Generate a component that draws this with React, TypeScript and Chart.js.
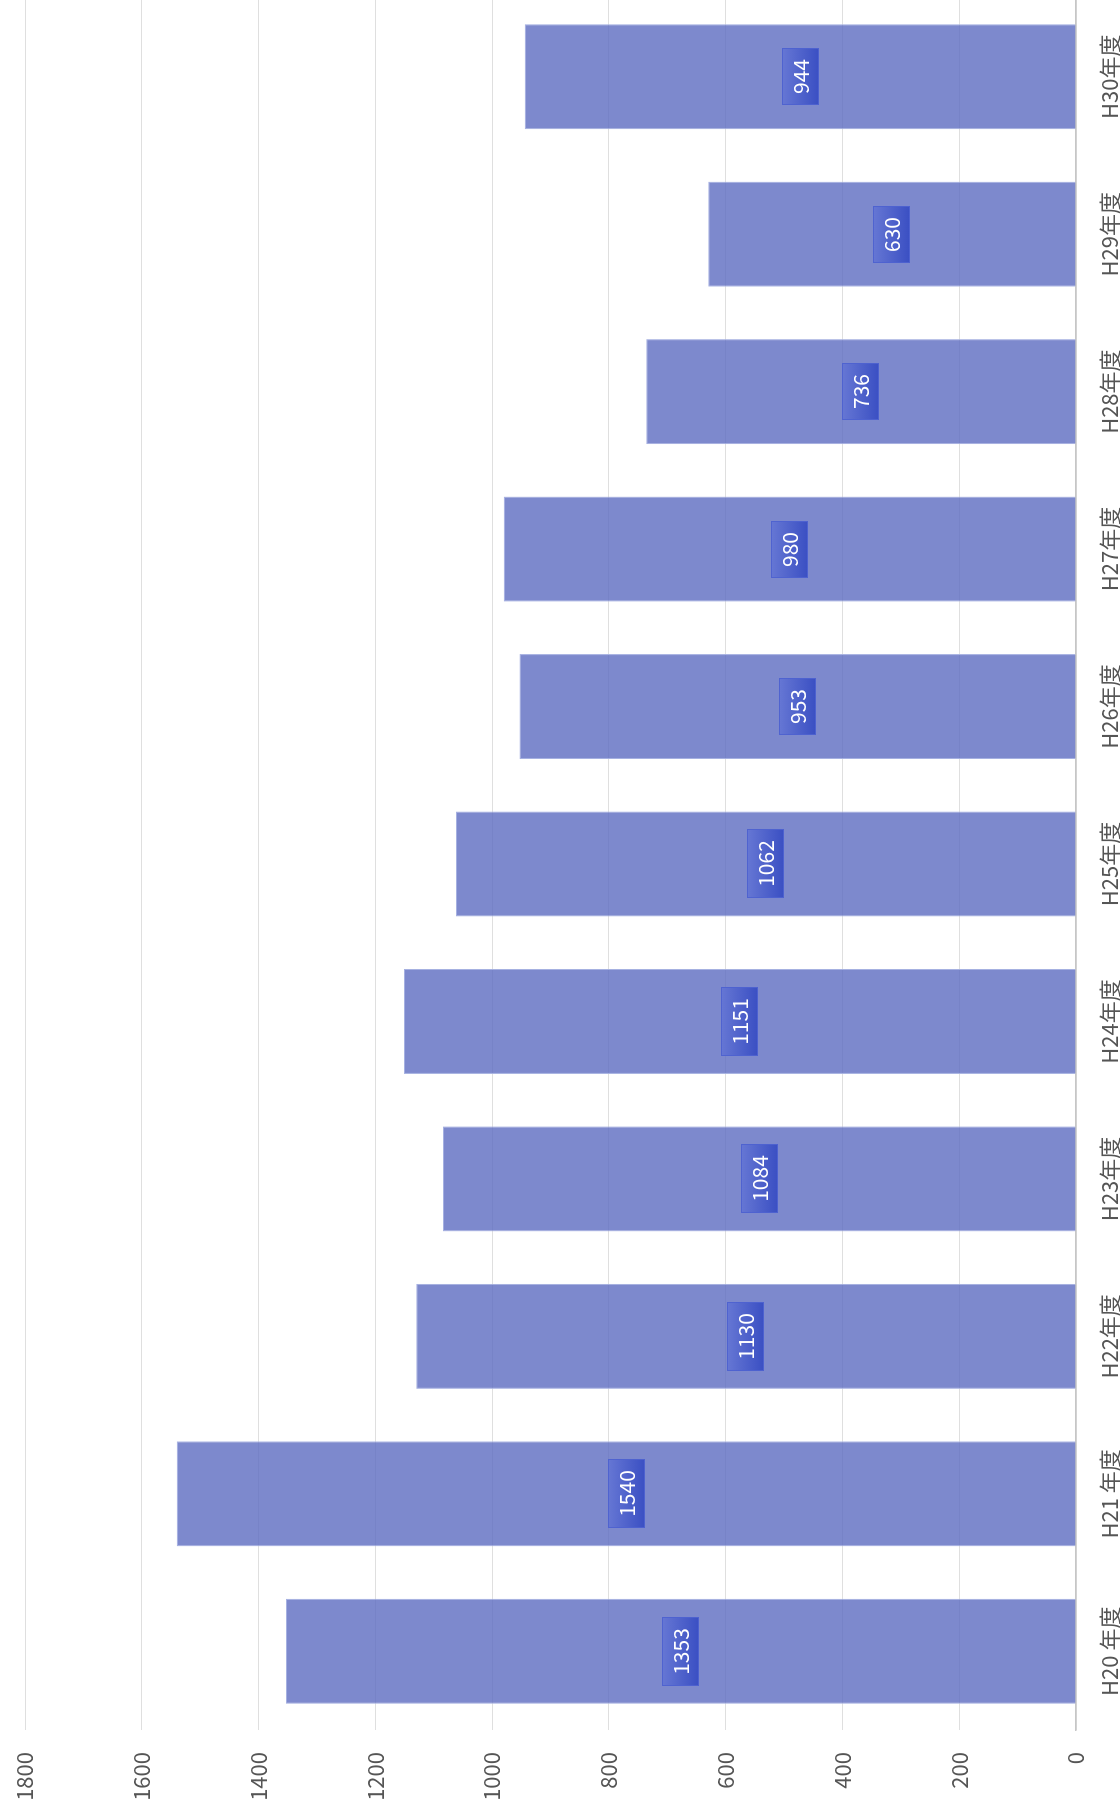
import React, { useEffect, useRef } from 'react';
import { Chart, registerables } from 'chart.js';

Chart.register(...registerables);

const categories = ['H20 年度', 'H21 年度', 'H22年度', 'H23年度', 'H24年度', 'H25年度', 'H26年度', 'H27年度', 'H28年度', 'H29年度', 'H30年度'];
const values = [1353, 1540, 1130, 1084, 1151, 1062, 953, 980, 736, 630, 944];
const valueMin = 0;
const valueMax = 1800;
const valueStep = 200;

const FONT = '"Noto Sans CJK JP", "Noto Sans", sans-serif';
const CW = 1818;
const CH = 1120;

const labelPlugin = {
  id: 'barValueLabels',
  afterDraw(chart: any) {
    const ctx = chart.ctx;
    const meta = chart.getDatasetMeta(0);
    const data = chart.data.datasets[0].data;
    ctx.save();
    ctx.font = `21px ${FONT}`;
    meta.data.forEach((bar: any, i: number) => {
      const { x, y, base } = bar.getProps(['x', 'y', 'base'], true);
      const cy = (y + base) / 2;
      const text = String(data[i]);
      const tw = ctx.measureText(text).width;
      const w = Math.round(tw + 22);
      const h = 37;
      const left = Math.round(x - w / 2);
      const top = Math.round(cy - h / 2);
      const g = ctx.createLinearGradient(0, top, 0, top + h);
      g.addColorStop(0, '#6677d4');
      g.addColorStop(1, '#3a4fc3');
      ctx.fillStyle = g;
      ctx.fillRect(left, top, w, h);
      ctx.strokeStyle = 'rgba(78,98,208,0.95)';
      ctx.lineWidth = 1;
      ctx.strokeRect(left + 0.5, top + 0.5, w - 1, h - 1);
      ctx.fillStyle = '#ffffff';
      ctx.textAlign = 'center';
      ctx.textBaseline = 'middle';
      ctx.fillText(text, left + w / 2, top + h / 2 + 1);
    });
    ctx.restore();
  },
};

export default function App() {
  const ref = useRef<HTMLCanvasElement | null>(null);

  useEffect(() => {
    if (!ref.current) return;
    Chart.defaults.font.family = FONT;
    Chart.defaults.font.size = 22;
    Chart.defaults.color = '#555555';
    const chart = new Chart(ref.current, {
      type: 'bar',
      data: {
        labels: categories,
        datasets: [
          {
            data: values,
            backgroundColor: 'rgba(92,107,192,0.8)',
            borderColor: 'rgba(165,176,225,1)',
            borderWidth: 1,
            categoryPercentage: 1,
            barPercentage: 0.667,
          },
        ],
      },
      options: {
        responsive: false,
        animation: false,
        layout: { padding: { top: 25, right: 0, bottom: 0, left: 0 } },
        plugins: {
          legend: { display: false },
          tooltip: { enabled: false },
        },
        scales: {
          x: {
            z: 1,
            grid: { display: false, drawTicks: false },
            border: { display: true, color: '#c6c6c6', width: 1.5 },
            ticks: { padding: 20, maxRotation: 0, minRotation: 0, autoSkip: false, font: { size: 22 } },
            afterFit: (scale: any) => {
              scale.height = 44;
              scale.paddingLeft = 0;
              scale.paddingRight = 0;
            },
          },
          y: {
            z: 1,
            min: valueMin,
            max: valueMax,
            ticks: {
              stepSize: valueStep,
              padding: 22,
              font: { size: 22 },
              callback: (v: any) => String(v),
            },
            grid: { color: 'rgba(175,175,175,0.4)', lineWidth: 1, drawTicks: false },
            border: { display: false },
            afterFit: (scale: any) => {
              scale.width = 86;
              scale.paddingTop = 0;
              scale.paddingBottom = 0;
            },
          },
        },
      },
      plugins: [labelPlugin],
    });
    return () => chart.destroy();
  }, []);

  return (
    <div style={{ position: 'fixed', left: 0, top: 0, width: 1120, height: 1816, overflow: 'hidden', background: '#ffffff' }}>
      <div
        style={{
          position: 'absolute',
          left: 0,
          top: 0,
          width: CW,
          height: CH,
          transformOrigin: '0 0',
          transform: 'translateY(1816px) rotate(-90deg)',
        }}
      >
        <canvas ref={ref} width={CW} height={CH} style={{ display: 'block', width: CW, height: CH }} />
      </div>
    </div>
  );
}
